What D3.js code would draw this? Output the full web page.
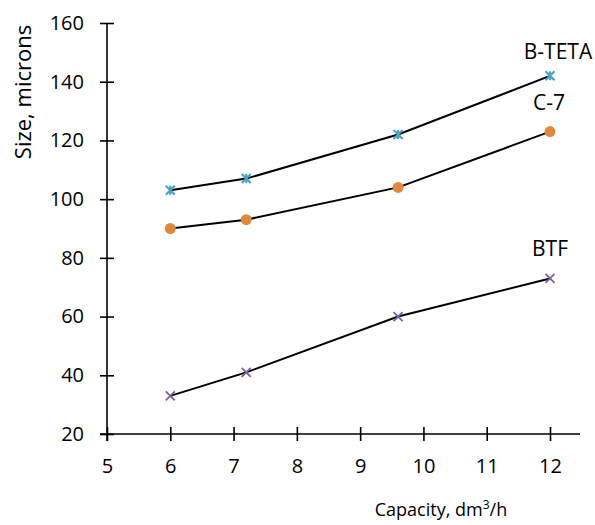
<!DOCTYPE html>
<html>
<head>
<meta charset="utf-8">
<script src="https://cdn.jsdelivr.net/npm/d3@7"></script>
<style>
  body { margin: 0; background: #fff; }
  text { font-family: "Open Sans", sans-serif; fill: #000; }
</style>
</head>
<body>
<svg id="chart" width="595" height="525"></svg>
<script>
// values
var capacity = [6, 7.2, 9.6, 12];
var bteta = [103, 107, 122, 142];
var c7 = [90, 93, 104, 123];
var btf = [33, 41, 60, 73];
var xTicks = [5, 6, 7, 8, 9, 10, 11, 12];
var yTicks = [20, 40, 60, 80, 100, 120, 140, 160];

var series = [
  {name: "B-TETA", values: bteta, color: "#4aa5c3", marker: "star", dx: 8, dy: -17},
  {name: "C-7", values: c7, color: "#e0883d", marker: "circle", dx: -1, dy: -22},
  {name: "BTF", values: btf, color: "#7a62a2", marker: "x", dx: 0, dy: -22}
];

var svg = d3.select("#chart");

var x = d3.scaleLinear()
  .domain([5, 12])
  .range([107, 550]);

var y = d3.scaleLinear()
  .domain([20, 160])
  .range([434, 23]);

// x axis, ticks cross the line
var xAxis = svg.append("g")
  .attr("transform", "translate(0," + y(20) + ")")
  .call(d3.axisBottom(x).tickValues(xTicks).tickSize(7).tickPadding(18).tickFormat(d3.format("d")));
xAxis.select(".domain").remove();
xAxis.selectAll(".tick line").attr("y1", -7).attr("stroke-width", 1.6);
xAxis.selectAll(".tick text").style("font-size", "20px").style("font-family", "Open Sans");
xAxis.append("line")
  .attr("x1", x(5) - 7)
  .attr("x2", 580)
  .attr("stroke", "#000")
  .attr("stroke-width", 1.6);

// y axis
var yAxis = svg.append("g")
  .attr("transform", "translate(" + x(5) + ",0)")
  .call(d3.axisLeft(y).tickValues(yTicks).tickSize(7).tickPadding(16));
yAxis.select(".domain").remove();
yAxis.selectAll(".tick line").attr("x1", 7).attr("stroke-width", 1.6);
yAxis.selectAll(".tick text").style("font-size", "20px").style("font-family", "Open Sans");
yAxis.append("line")
  .attr("y1", y(20) + 7)
  .attr("y2", y(160))
  .attr("stroke", "#000")
  .attr("stroke-width", 1.6);

// axis titles
svg.append("text")
  .attr("transform", "translate(31," + 92 + ") rotate(-90)")
  .attr("text-anchor", "middle")
  .style("font-size", "22px")
  .text("Size, microns");

var xt = svg.append("text")
  .attr("x", 441)
  .attr("y", 516)
  .attr("text-anchor", "middle")
  .style("font-size", "18px");
xt.append("tspan").text("Capacity, dm");
xt.append("tspan").attr("dy", -7).style("font-size", "12px").text("3");
xt.append("tspan").attr("dy", 7).text("/h");

var line = d3.line()
  .x(function(d, i) { return x(capacity[i]); })
  .y(function(d) { return y(d); });

var groups = svg.selectAll(".series")
  .data(series)
  .enter().append("g")
  .attr("class", "series");

groups.append("path")
  .attr("d", function(d) { return line(d.values); })
  .attr("fill", "none")
  .attr("stroke", "#000")
  .attr("stroke-width", 2);

// markers
groups.each(function(s) {
  var g = d3.select(this);
  s.values.forEach(function(v, i) {
    var cx = x(capacity[i]), cy = y(v);
    if (s.marker == "circle") {
      g.append("circle")
        .attr("cx", cx).attr("cy", cy).attr("r", 5.5)
        .attr("fill", s.color);
    } else {
      var r = 4.5;
      var p = "M" + (cx - r) + "," + (cy - r) + "L" + (cx + r) + "," + (cy + r) +
              "M" + (cx - r) + "," + (cy + r) + "L" + (cx + r) + "," + (cy - r);
      if (s.marker == "star") p += "M" + cx + "," + (cy - r) + "L" + cx + "," + (cy + r);
      g.append("path")
        .attr("d", p)
        .attr("stroke", s.color)
        .attr("stroke-width", s.marker == "star" ? 2.2 : 1.8)
        .attr("fill", "none");
    }
  });
});

// series labels
groups.append("text")
  .attr("x", function(d) { return x(capacity[capacity.length - 1]) + d.dx; })
  .attr("y", function(d) { return y(d.values[d.values.length - 1]) + d.dy; })
  .attr("text-anchor", "middle")
  .style("font-size", "21px")
  .text(function(d) { return d.name; });
</script>
</body>
</html>
